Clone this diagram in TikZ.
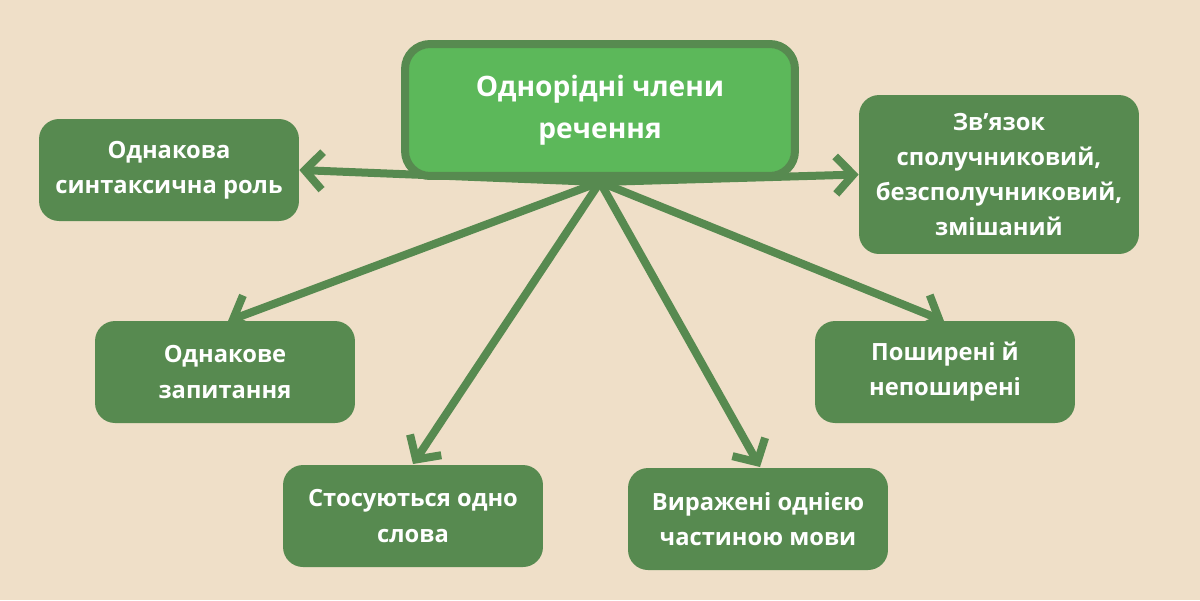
\documentclass[tikz,border=0pt]{standalone}
\usepackage{fontspec}
\setmainfont{Open Sans}
\usetikzlibrary{arrows.meta}
\definecolor{bg}{HTML}{EFDFC8}
\definecolor{dg}{HTML}{578A50}
\definecolor{lg}{HTML}{5CB85A}
\tikzset{
  box/.style={fill=dg,rounded corners=0.4cm,text=white,font=\bfseries\fontsize{13.5}{20}\selectfont,align=center,inner sep=0pt},
  conn/.style={draw=dg,line width=0.16cm,-{Straight Barb[length=0.35cm,width=0.75cm,line width=0.16cm]}}
}
\begin{document}
\begin{tikzpicture}[x=0.02cm,y=-0.02cm]
\fill[bg] (0,0) rectangle (1200,600);
\useasboundingbox (0,0) rectangle (1200,600);
\coordinate (hub) at (600,182);
\node[box,minimum width=5.2cm,minimum height=2.04cm] (a) at (169,170) {Однакова\\синтаксична роль};
\node[box,minimum width=5.6cm,minimum height=3.18cm] (b) at (999,174.5) {Зв'язок\\сполучниковий,\\безсполучниковий,\\змішаний};
\node[box,minimum width=5.2cm,minimum height=2.04cm] (c) at (225,372) {Однакове\\запитання};
\node[box,minimum width=5.2cm,minimum height=2.04cm] (d) at (945,372) {Поширені й\\непоширені};
\node[box,minimum width=5.2cm,minimum height=2.04cm] (e) at (413,516) {Стосуються одно\\слова};
\node[box,minimum width=5.2cm,minimum height=2.04cm] (f) at (758,519) {Виражені однією\\частиною мови};
\draw[conn] (hub) -- (a.east);
\draw[conn] (hub) -- (b.west);
\draw[conn] (hub) -- (228,321);
\draw[conn] (hub) -- (944,321);
\draw[conn] (hub) -- (413,464);
\draw[conn] (hub) -- (760,467);
\node[fill=lg,draw=dg,line width=0.16cm,rounded corners=0.5cm,minimum width=7.8cm,minimum height=2.64cm,text=white,font=\bfseries\fontsize{16}{24}\selectfont,align=center] (m) at (600,110) {Однорідні члени\\речення};
\end{tikzpicture}
\end{document}
